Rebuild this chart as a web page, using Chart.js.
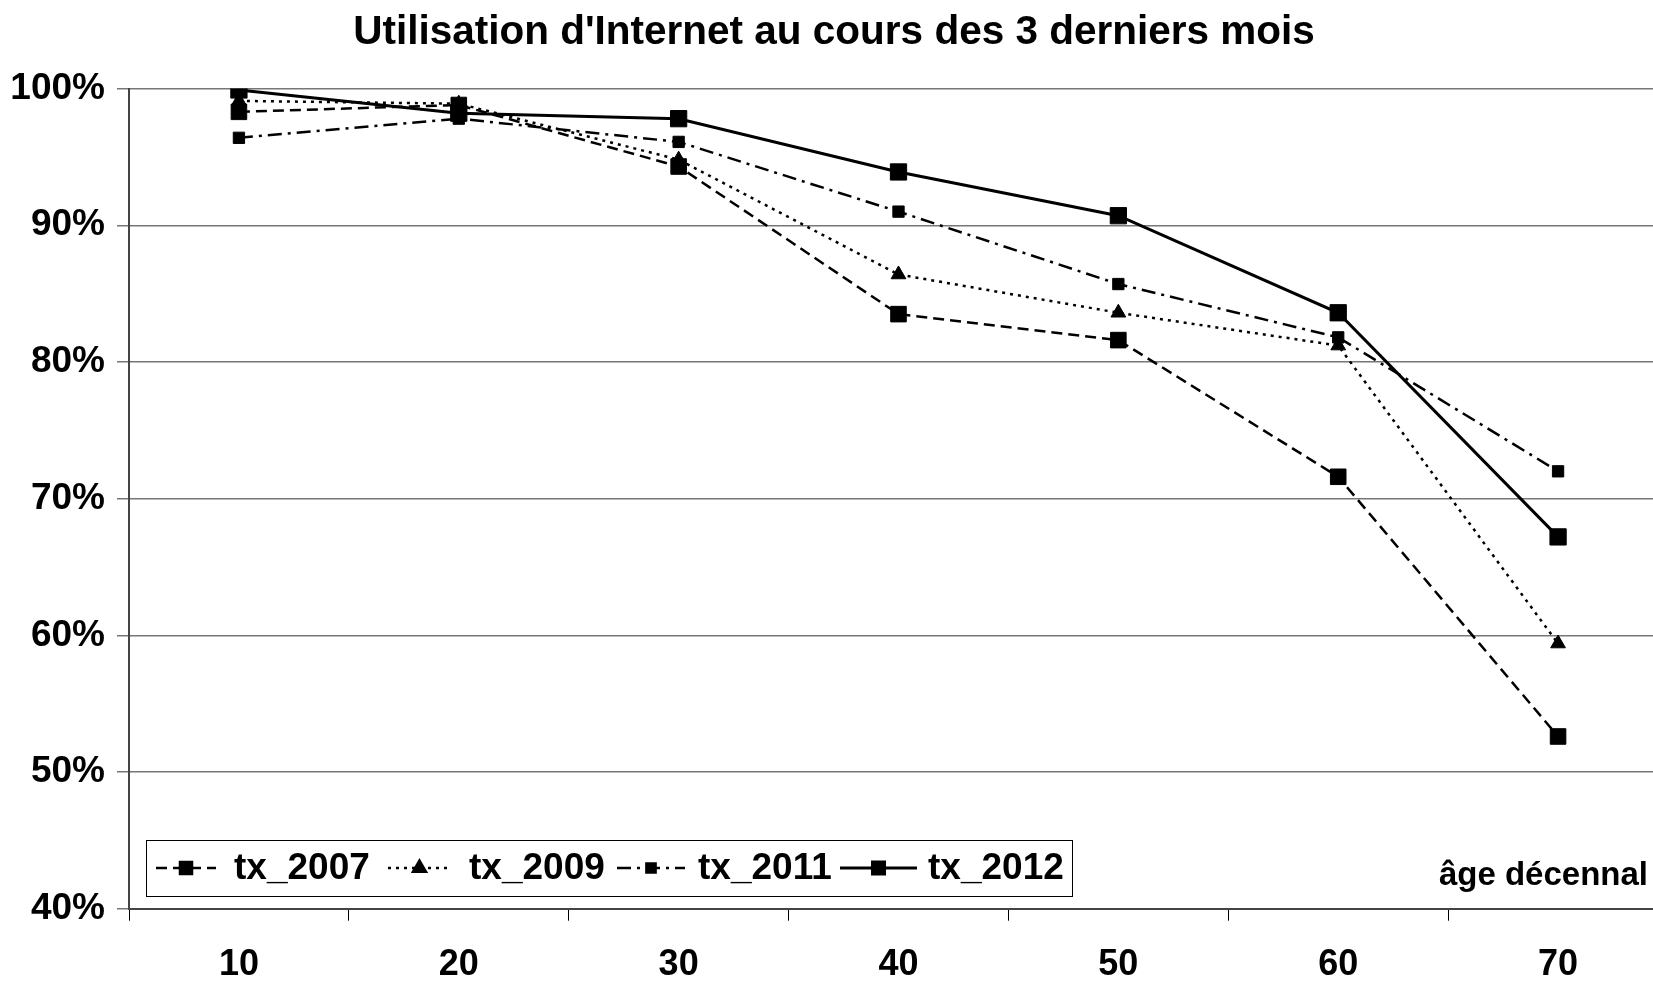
<!DOCTYPE html>
<html>
<head>
<meta charset="utf-8">
<title>Utilisation d'Internet</title>
<script src="https://cdn.jsdelivr.net/npm/chart.js@4.4.1/dist/chart.umd.min.js"></script>
<style>
  html, body { margin: 0; padding: 0; background: #fff; overflow: hidden; }
  #wrap { width: 1653px; height: 982px; overflow: hidden; }
</style>
</head>
<body>
<div id="wrap"><canvas id="myChart" width="1688" height="982"></canvas></div>
<script>
// age groups (x axis)
const ages = ['10', '20', '30', '40', '50', '60', '70'];

// share of people who used Internet in the last 3 months, in %
const tx2007 = [98.3, 98.8, 94.3, 83.5, 81.6, 71.6, 52.6];
const tx2009 = [99.1, 98.9, 94.8, 86.4, 83.6, 81.2, 59.4];
const tx2011 = [96.4, 97.8, 96.1, 91.0, 85.7, 81.8, 72.0];
const tx2012 = [99.9, 98.2, 97.8, 93.9, 90.7, 83.6, 67.2];

const yMin = 40;
const yMax = 100;
const yStep = 10;

const FONT = "'Liberation Sans', Arial, sans-serif";

// legend drawn inside the plot, bottom left, like the original
const legendInside = {
    id: 'legendInside',
    afterDraw(chart) {
        const ctx = chart.ctx;
        ctx.save();
        // box
        ctx.fillStyle = '#fff';
        ctx.fillRect(146, 840, 926, 56);
        ctx.strokeStyle = '#000';
        ctx.lineWidth = 1;
        ctx.strokeRect(146.5, 840.5, 926, 56);

        const yc = 868;
        const sampleX = [[156, 216], [388, 451], [617, 685], [840, 917]];
        const textX = [234, 469, 698, 928];
        const markerR = [8.5, 7.5, 6.5, 8.5];

        chart.data.datasets.forEach((ds, i) => {
            const [x0, x1] = sampleX[i];
            ctx.beginPath();
            ctx.setLineDash(ds.borderDash || []);
            ctx.lineWidth = ds.borderWidth;
            ctx.strokeStyle = '#000';
            ctx.moveTo(x0, yc);
            ctx.lineTo(x1, yc);
            ctx.stroke();
            ctx.setLineDash([]);
            ctx.fillStyle = '#000';
            Chart.helpers.drawPoint(ctx, {
                pointStyle: ds.pointStyle,
                radius: markerR[i],
                rotation: 0,
                borderWidth: 1
            }, (x0 + x1) / 2, yc);

            ctx.fillStyle = '#000';
            ctx.font = 'bold 37px ' + FONT;
            ctx.textAlign = 'left';
            ctx.textBaseline = 'middle';
            ctx.fillText(ds.label, textX[i], yc + 1);
        });

        // axis caption
        ctx.font = 'bold 33px ' + FONT;
        ctx.textAlign = 'right';
        ctx.fillText('âge décennal', 1648, 876);
        ctx.restore();
    }
};

document.addEventListener('DOMContentLoaded', () => {
    const ctx = document.getElementById('myChart').getContext('2d');

    new Chart(ctx, {
        type: 'line',
        data: {
            labels: ages,
            datasets: [
                {
                    label: 'tx_2007',
                    data: tx2007,
                    borderColor: '#000',
                    backgroundColor: '#000',
                    borderWidth: 2.5,
                    borderDash: [11, 6],
                    pointStyle: 'rect',
                    pointRadius: 11,
                    pointBorderWidth: 1
                },
                {
                    label: 'tx_2009',
                    data: tx2009,
                    borderColor: '#000',
                    backgroundColor: '#000',
                    borderWidth: 2.5,
                    borderDash: [3, 5],
                    pointStyle: 'triangle',
                    pointRadius: 8.5,
                    pointBorderWidth: 1
                },
                {
                    label: 'tx_2011',
                    data: tx2011,
                    borderColor: '#000',
                    backgroundColor: '#000',
                    borderWidth: 2.5,
                    borderDash: [14, 6, 3, 6],
                    pointStyle: 'rect',
                    pointRadius: 8,
                    pointBorderWidth: 1
                },
                {
                    label: 'tx_2012',
                    data: tx2012,
                    borderColor: '#000',
                    backgroundColor: '#000',
                    borderWidth: 3,
                    pointStyle: 'rect',
                    pointRadius: 11.5,
                    pointBorderWidth: 1
                }
            ]
        },
        options: {
            responsive: false,
            animation: false,
            devicePixelRatio: 1,
            layout: {
                padding: { top: 0, right: 20, bottom: 0, left: 0 }
            },
            elements: {
                line: { tension: 0 }
            },
            plugins: {
                title: {
                    display: true,
                    text: "Utilisation d'Internet au cours des 3 derniers mois",
                    color: '#000',
                    font: { family: FONT, size: 40.5, weight: 'bold' },
                    padding: { top: 9, bottom: 31 }
                },
                legend: { display: false },
                tooltip: { enabled: false }
            },
            scales: {
                x: {
                    type: 'category',
                    offset: true,
                    grid: {
                        offset: true,
                        drawOnChartArea: false,
                        drawTicks: true,
                        tickLength: 12,
                        color: '#000'
                    },
                    border: { color: '#444', width: 2 },
                    ticks: {
                        color: '#000',
                        font: { family: FONT, size: 36, weight: 'bold' },
                        padding: 23,
                        maxRotation: 0
                    },
                    afterFit: (scale) => { scale.height = 73.3; }
                },
                y: {
                    min: yMin,
                    max: yMax,
                    grid: {
                        color: '#777',
                        lineWidth: 1.5,
                        tickLength: 12
                    },
                    border: { color: '#444', width: 2 },
                    ticks: {
                        stepSize: yStep,
                        color: '#000',
                        padding: 12,
                        font: { family: FONT, size: 37, weight: 'bold' },
                        callback: (v) => v + '%'
                    },
                    afterFit: (scale) => { scale.width = 129; }
                }
            }
        },
        plugins: [legendInside]
    });
});
</script>
</body>
</html>
